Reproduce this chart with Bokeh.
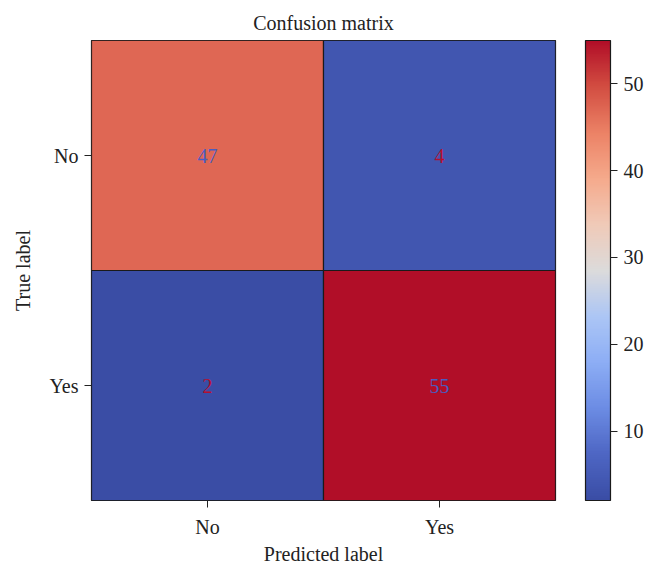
from bokeh.plotting import figure
from bokeh.models import LinearColorMapper, ColorBar, ColumnDataSource, FixedTicker
from bokeh.core.properties import value
from bokeh.embed import file_html
from bokeh.resources import INLINE

# Data
predicted = ["No", "Yes", "No", "Yes"]
true_lbl = ["No", "No", "Yes", "Yes"]
counts = [47, 4, 2, 55]
labels = ["No", "Yes"]
cbar_ticks = [10, 20, 30, 40, 50]

FONT = "Liberation Serif"
FS = "20px"

# coolwarm-like anchor colours (as they appear in the reference)
anchors = [
    (0.0, (58, 77, 165)), (0.1, (78, 102, 196)), (0.2, (108, 140, 228)),
    (0.3, (141, 174, 245)), (0.4, (172, 198, 245)), (0.5, (220, 219, 219)),
    (0.6, (240, 202, 184)), (0.7, (245, 170, 140)), (0.8, (236, 130, 102)),
    (0.9, (211, 78, 66)), (1.0, (177, 14, 40)),
]

def cmap(t):
    for (t0, c0), (t1, c1) in zip(anchors[:-1], anchors[1:]):
        if t0 <= t <= t1:
            f = (t - t0) / (t1 - t0)
            return "#%02x%02x%02x" % tuple(int(round(a + (b - a) * f)) for a, b in zip(c0, c1))
    return "#%02x%02x%02x" % anchors[-1][1]

palette = [cmap(i / 255) for i in range(256)]
vmin, vmax = min(counts), max(counts)
mapper = LinearColorMapper(palette=palette, low=vmin, high=vmax)

text_colors = ["#4a5cc0" if c > (vmin + vmax) / 2 else "#b40f30" for c in counts]

src = ColumnDataSource(dict(x=predicted, y=true_lbl, c=counts,
                            t=[str(c) for c in counts], tc=text_colors))

p = figure(x_range=labels, y_range=list(reversed(labels)),
           frame_width=464, frame_height=460, width=660, height=566,
           output_backend="svg", toolbar_location=None,
           min_border_left=91, min_border_top=40, min_border_right=10, min_border_bottom=2)

p.rect(x="x", y="y", width=1, height=1, source=src,
       fill_color={"field": "c", "transform": mapper},
       line_color="#1a1a1a", line_width=1.2)
p.text(x="x", y="y", text="t", source=src, text_color="tc",
       text_align="center", text_baseline="middle",
       text_font=value(FONT), text_font_size=FS)

p.title.text = "Confusion matrix"
p.title.align = "center"
p.title.text_font = FONT
p.title.text_font_size = FS
p.title.text_font_style = "normal"
p.title.text_color = "#222222"
p.title.standoff = 14

p.xgrid.visible = False
p.ygrid.visible = False
p.outline_line_color = "#1a1a1a"
p.outline_line_width = 1.2

for ax in (p.xaxis[0], p.yaxis[0]):
    ax.axis_line_color = None
    ax.major_tick_line_color = "#222222"
    ax.major_tick_out = 7
    ax.major_tick_in = 0
    ax.minor_tick_line_color = None
    ax.major_label_text_font = FONT
    ax.major_label_text_font_size = FS
    ax.major_label_text_color = "#222222"
    ax.axis_label_text_font = FONT
    ax.axis_label_text_font_size = FS
    ax.axis_label_text_font_style = "normal"
    ax.axis_label_text_color = "#222222"

p.xaxis.axis_label = "Predicted label"
p.yaxis.axis_label = "True label"
p.yaxis.major_label_orientation = "horizontal"
p.xaxis.major_label_standoff = 8
p.yaxis.major_label_standoff = 6
p.xaxis.axis_label_standoff = 2
p.yaxis.axis_label_standoff = 12

cb = ColorBar(color_mapper=mapper, ticker=FixedTicker(ticks=cbar_ticks),
              width=25, height=460, padding=0, margin=0, location=(30, 0),
              bar_line_color="#1a1a1a", bar_line_width=1.2,
              major_tick_line_color="#222222", major_tick_out=7, major_tick_in=0,
              minor_tick_line_color=None,
              major_label_text_font=FONT, major_label_text_font_size=FS,
              major_label_text_color="#222222",
              background_fill_alpha=0, border_line_color=None, label_standoff=6)
p.add_layout(cb, "right")

open("out.html", "w").write(file_html(p, INLINE))
